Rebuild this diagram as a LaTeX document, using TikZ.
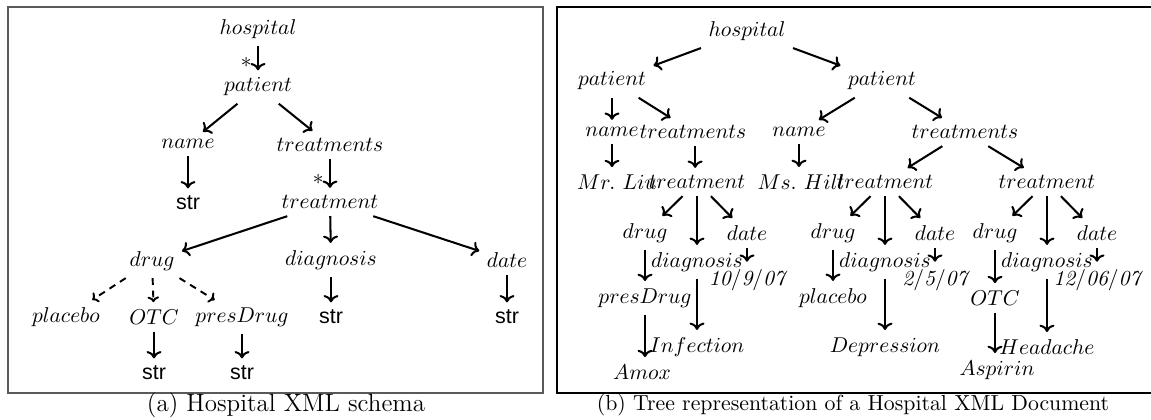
\documentclass[tikz,border=0pt]{standalone}
\usepackage{fontspec}
\newfontfamily\strfont{Liberation Sans}
\usetikzlibrary{arrows.meta}
\begin{document}
\begin{tikzpicture}[x=0.466pt,y=-0.466pt,
    lb/.style={inner sep=3.33pt},
    sv/.style={inner sep=3.33pt,font=\strfont},
    ar/.style={-{To[length=3.4pt,width=7pt]},line width=0.95pt},
    da/.style={-{To[length=2.6pt,width=5.4pt]},line width=0.9pt,dash pattern=on 3.2pt off 2.6pt},
    captxt/.style={inner sep=0pt}]
    \useasboundingbox (0,0) rectangle (1151,419);
    % frames and captions
    \draw[line width=0.6pt,black!65] (8,7) rectangle (543,393);
    \draw[line width=0.6pt] (557,7) rectangle (1160,393);
    \node[captxt,font=\fontsize{11.65}{14}\selectfont] (capa) at (286,405) {(a) Hospital XML schema};
    \node[captxt,font=\fontsize{10.15}{13}\selectfont] (capb) at (853,405) {(b) Tree representation of a Hospital XML Document};
    % (a) schema
    \node[lb] (hosp) at (258,29) {$hospital$};
    \node[lb] (pat) at (258,87) {$patient$};
    \node[lb] (nm) at (188,144) {$name$};
    \node[lb] (trs) at (330,145) {$treatments$};
    \node[sv] (nmstr) at (188,203) {str};
    \node[lb] (tr) at (330,202) {$treatment$};
    \node[lb] (drug) at (152,261) {$drug$};
    \node[lb] (diag) at (331,260) {$diagnosis$};
    \node[lb] (date) at (507,260) {$date$};
    \node[lb] (plac) at (66,317) {$placebo$};
    \node[lb] (otc) at (154,317) {$OTC$};
    \node[lb] (pres) at (242,317) {$presDrug$};
    \node[sv] (diagstr) at (331,317) {str};
    \node[sv] (datestr) at (507,317) {str};
    \node[sv] (otcstr) at (154,373) {str};
    \node[sv] (presstr) at (242,373) {str};
    \draw[ar] (hosp) -- node[left,pos=0.68,inner sep=2.5pt] {$*$} (pat);
    \draw[ar] (pat) -- (nm);
    \draw[ar] (pat) -- (trs);
    \draw[ar] (nm) -- (nmstr);
    \draw[ar] (trs) -- node[left,pos=0.72,inner sep=2.5pt] {$*$} (tr);
    \draw[ar] (tr) -- (drug);
    \draw[ar] (tr) -- (diag);
    \draw[ar] (tr) -- (date);
    \foreach \c in {plac,otc,pres}
        \draw[da] (drug) -- (\c);
    \draw[ar] (diag) -- (diagstr);
    \draw[ar] (date) -- (datestr);
    \draw[ar] (otc) -- (otcstr);
    \draw[ar] (pres) -- (presstr);
    % (b) document tree
    \node[lb] (rhosp) at (747,31) {$hospital$};
    \node[lb] (rpat1) at (612,81) {$patient$};
    \node[lb] (rpat2) at (882,81) {$patient$};
    \node[lb] (rnm1) at (612,132) {$name$};
    \node[lb] (rtrs1) at (693,132) {$treatments$};
    \node[lb] (rnm2) at (799,132) {$name$};
    \node[lb] (rtrs2) at (965,132) {$treatments$};
    \node[lb] (rval1) at (617,182) {$Mr.\ Liu$};
    \node[lb] (rval2) at (801,182) {$Ms.\ Hill$};
    \node[lb] (rtr1) at (697,182) {$treatment$};
    \node[lb] (rtr2) at (885,182) {$treatment$};
    \node[lb] (rtr3) at (1047,182) {$treatment$};
    \draw[ar] (rhosp) -- (rpat1);
    \draw[ar] (rhosp) -- (rpat2);
    \draw[ar] (rpat1) -- (rnm1);
    \draw[ar] (rpat1) -- (rtrs1);
    \draw[ar] (rpat2) -- (rnm2);
    \draw[ar] (rpat2) -- (rtrs2);
    \draw[ar] (rnm1) -- (rnm1 |- rval1.north);
    \draw[ar] (rnm2) -- (rnm2 |- rval2.north);
    \draw[ar] ([xshift=1pt]rtrs1.south) -- ([xshift=1pt]rtrs1.south |- rtr1.north);
    \draw[ar] (rtrs2) -- (rtr2);
    \draw[ar] (rtrs2) -- (rtr3);
    \foreach \t/\dv/\gv/\tv in {rtr1/presDrug/Infection/{10/9/07},rtr2/placebo/Depression/{2/5/07},rtr3/OTC/Headache/{12/06/07}} {
        \node[lb] (\t-drug) at ([shift={(-52,51)}]\t.center) {$drug$};
        \node[lb] (\t-diag) at ([shift={(0,80)}]\t.center) {$diagnosis$};
        \node[lb] (\t-date) at ([shift={(50,51)}]\t.center) {$date$};
        \node[lb] (\t-dv) at ([shift={(-52,116)}]\t.center) {$\dv$};
        \node[lb] (\t-gv) at ([shift={(0,165)}]\t.center) {$\gv$};
        \node[lb] (\t-tv) at ([shift={(50,98)}]\t.center) {$\mathit{\tv}$};
        \draw[ar] (\t) -- (\t-drug);
        \draw[ar] (\t) -- (\t-diag);
        \draw[ar] (\t) -- (\t-date);
        \draw[ar] (\t-drug) -- (\t-dv);
        \draw[ar] (\t-diag) -- (\t-gv);
        \draw[ar] (\t-date) -- (\t-tv);
    }
    \node[lb] (amox) at ([shift={(-3,74)}]rtr1-dv.center) {$Amox$};
    \node[lb] (aspi) at ([shift={(2,72)}]rtr3-dv.center) {$Aspirin$};
    \draw[ar] (rtr1-dv) -- (rtr1-dv |- amox.north);
    \draw[ar] (rtr3-dv) -- (rtr3-dv |- aspi.north);
\end{tikzpicture}
\end{document}
